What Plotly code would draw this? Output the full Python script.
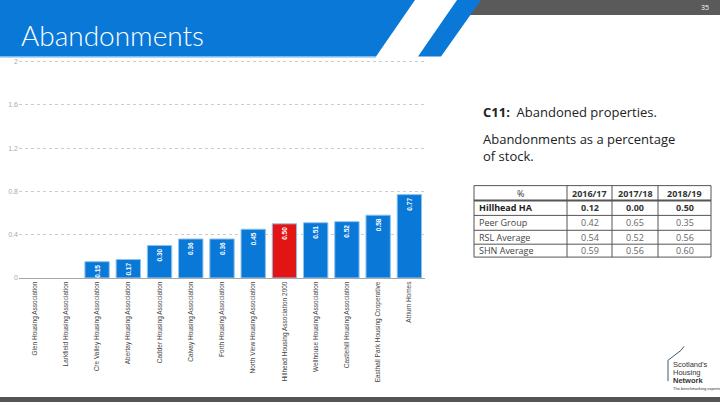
import plotly.graph_objects as go

W, H = 720, 405

# ---------------- data ----------------
categories = [
    "Glen Housing Association",
    "Larkfield Housing Association",
    "Cre Valley Housing Association",
    "Abertay Housing Association",
    "Cadder Housing Association",
    "Calvay Housing Association",
    "Forth Housing Association",
    "North View Housing Association",
    "Hillhead Housing Association 2000",
    "Wellhouse Housing Association",
    "Castlehill Housing Association",
    "Easthall Park Housing Cooperative",
    "Atrium Homes",
]
values = [0.0, 0.0, 0.15, 0.17, 0.30, 0.36, 0.36, 0.45, 0.50, 0.51, 0.52, 0.58, 0.77]
highlight = "Hillhead Housing Association 2000"
y_ticks = [0, 0.4, 0.8, 1.2, 1.6, 2]
y_tick_labels = ["0", "0.4", "0.8", "1.2", "1.6", "2"]

table_header = ["%", "2016/17", "2017/18", "2018/19"]
table_rows = ["Hillhead HA", "Peer Group", "RSL Average", "SHN Average"]
table_2016 = ["0.12", "0.42", "0.54", "0.59"]
table_2017 = ["0.00", "0.65", "0.52", "0.56"]
table_2018 = ["0.50", "0.35", "0.56", "0.60"]

BLUE = "#0a78d7"
RED = "#e31414"


def X(px):
    return px / W


def Y(py):
    return 1 - py / H


colors = [RED if c == highlight else BLUE for c in categories]
edge_colors = ["#8ec3ef" if v > 0 else "rgba(0,0,0,0)" for v in values]
labels = [f"{v:.2f}" if v > 0 else "" for v in values]

fig = go.Figure()
fig.add_trace(go.Bar(
    x=categories, y=values, marker=dict(color=colors, line=dict(color=edge_colors, width=1)),
    text=labels, textposition="inside", insidetextanchor="end", textangle=-90,
    textfont=dict(family="Liberation Sans, Arial", size=6.5, color="white", weight="bold"),
    cliponaxis=False, hoverinfo="skip",
))

fig.update_layout(
    width=W, height=H, margin=dict(l=0, r=0, t=0, b=0),
    paper_bgcolor="white", plot_bgcolor="white", showlegend=False,
    bargap=0.22,
    uniformtext=dict(minsize=6.5, mode="show"),
    xaxis=dict(domain=[X(19), X(425)], tickangle=-90,
               tickfont=dict(family="Liberation Sans, Arial", size=6.5, color="#444"),
               showline=True, linecolor="#a8a8a8", linewidth=1, ticks="", showgrid=False),
    yaxis=dict(domain=[Y(280), Y(58.7)], range=[0, 2.03], tickvals=y_ticks, ticktext=y_tick_labels,
               tickfont=dict(family="Liberation Sans, Arial", size=7, color="#aaaaaa"),
               showgrid=True, gridcolor="#cccccc", griddash="dot", gridwidth=1,
               zeroline=False, showline=False, ticks=""),
)

shapes = []
# header: grey bar, blue band, diagonal stripe
shapes.append(dict(type="rect", xref="paper", yref="paper", x0=X(470), x1=X(720), y0=Y(15), y1=Y(0),
                   fillcolor="#5a5a5a", line=dict(width=0), layer="above"))
shapes.append(dict(type="path", xref="paper", yref="paper",
                   path=f"M 0 {Y(0)} L {X(415)} {Y(0)} L {X(376)} {Y(57)} L 0 {Y(57)} Z",
                   fillcolor=BLUE, line=dict(width=0), layer="above"))
shapes.append(dict(type="path", xref="paper", yref="paper",
                   path=f"M {X(457)} {Y(0)} L {X(481)} {Y(0)} L {X(441)} {Y(57)} L {X(418)} {Y(57)} Z",
                   fillcolor=BLUE, line=dict(width=0), layer="above"))
shapes.append(dict(type="line", xref="paper", yref="paper", x0=0, x1=X(376), y0=Y(57.5), y1=Y(57.5),
                   line=dict(color="#7fb8ec", width=1)))
# bottom bar
shapes.append(dict(type="rect", xref="paper", yref="paper", x0=0, x1=1, y0=0, y1=Y(400),
                   fillcolor="#555555", line=dict(width=0)))

# table grid
col_edges = [474, 567, 612, 658, 711]
row_edges = [187, 202, 217, 232, 246, 259]
for i, yy in enumerate(row_edges):
    shapes.append(dict(type="line", xref="paper", yref="paper", x0=X(col_edges[0]), x1=X(col_edges[-1]),
                       y0=Y(yy), y1=Y(yy), line=dict(color="#555", width=2 if i == 1 else 1)))
for xx in col_edges:
    shapes.append(dict(type="line", xref="paper", yref="paper", x0=X(xx), x1=X(xx),
                       y0=Y(row_edges[0]), y1=Y(row_edges[-1]), line=dict(color="#555", width=1)))

# logo house
shapes.append(dict(type="path", xref="paper", yref="paper",
                   path=f"M {X(668)} {Y(384)} L {X(668)} {Y(363)} L {X(681)} {Y(353)} L {X(684)} {Y(349)}",
                   line=dict(color="#3c5878", width=1)))
fig.update_layout(shapes=shapes)

ann = []
TF = "Open Sans, Liberation Sans"
ann.append(dict(x=X(19), y=Y(35), xref="paper", yref="paper", xanchor="left", yanchor="middle",
                text="Abandonments", showarrow=False,
                font=dict(family="Lato, Open Sans", size=28, color="white", weight=300)))
ann.append(dict(x=X(705), y=Y(7.5), xref="paper", yref="paper", xanchor="center", yanchor="middle",
                text="35", showarrow=False, font=dict(family=TF, size=7, color="white")))
ann.append(dict(x=X(481), y=Y(113), xref="paper", yref="paper", xanchor="left", yanchor="middle",
                text="<b>C11:</b>  Abandoned properties.", showarrow=False,
                font=dict(family=TF, size=13, color="#222")))
ann.append(dict(x=X(481), y=Y(148.5), xref="paper", yref="paper", xanchor="left", yanchor="middle",
                text="Abandonments as a percentage<br>of stock.", showarrow=False, align="left",
                font=dict(family=TF, size=13, color="#222")))

# table text
cols = [table_2016, table_2017, table_2018]
for j, h in enumerate(table_header):
    cx = (col_edges[j] + col_edges[j + 1]) / 2
    ann.append(dict(x=X(cx), y=Y((row_edges[0] + row_edges[1]) / 2), xref="paper", yref="paper",
                    xanchor="center", yanchor="middle", showarrow=False,
                    text=h if j == 0 else f"<b>{h}</b>",
                    font=dict(family=TF, size=9, color="#333")))
for i, r in enumerate(table_rows):
    cy = (row_edges[i + 1] + row_edges[i + 2]) / 2
    bold = i == 0
    ann.append(dict(x=X(col_edges[0] + 3), y=Y(cy), xref="paper", yref="paper",
                    xanchor="left", yanchor="middle", showarrow=False,
                    text=f"<b>{r}</b>" if bold else r,
                    font=dict(family=TF, size=9, color="#222" if bold else "#444")))
    for j, col in enumerate(cols):
        cx = (col_edges[j + 1] + col_edges[j + 2]) / 2
        ann.append(dict(x=X(cx), y=Y(cy), xref="paper", yref="paper",
                        xanchor="center", yanchor="middle", showarrow=False,
                        text=f"<b>{col[i]}</b>" if bold else col[i],
                        font=dict(family=TF, size=9, color="#333" if bold else "#666")))

# logo text
logo_lines = [("Scotland's", 367, False, 7.5), ("Housing", 375, False, 7.5),
              ("Network", 383, True, 7.5), ("The benchmarking experts", 391, False, 4)]
for t, yy, b, s in logo_lines:
    ann.append(dict(x=X(671), y=Y(yy), xref="paper", yref="paper", xanchor="left", yanchor="middle",
                    showarrow=False, text=f"<b>{t}</b>" if b else t,
                    font=dict(family="Liberation Sans, Arial", size=s, color="#333")))

fig.update_layout(annotations=ann)
fig.write_html("out.html")
